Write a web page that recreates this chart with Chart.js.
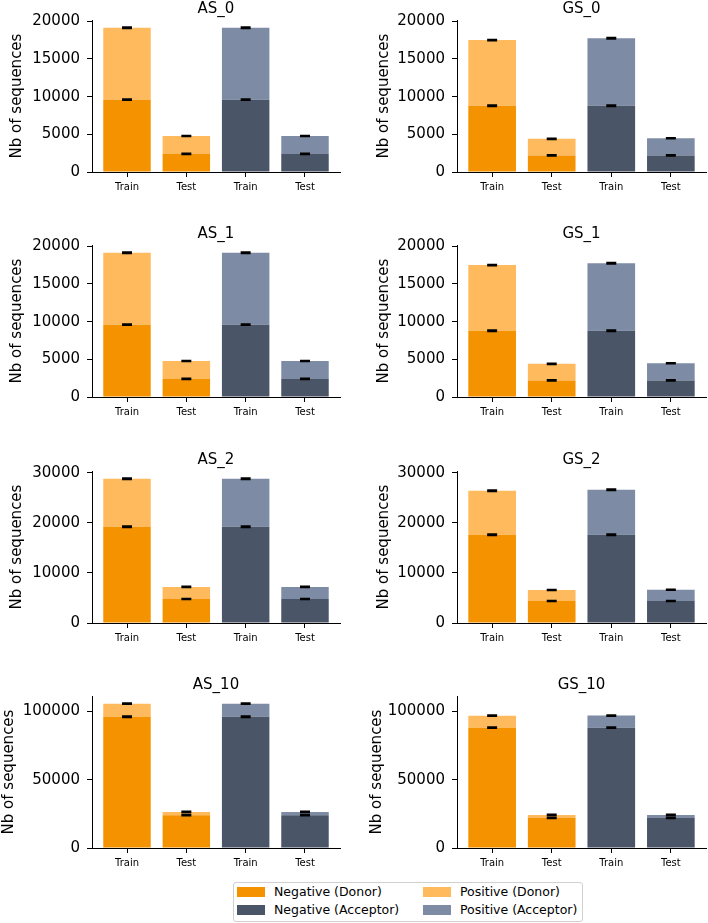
<!DOCTYPE html>
<html>
<head>
<meta charset="utf-8">
<title>Nb of sequences per split</title>
<script src="https://cdn.jsdelivr.net/npm/chart.js@4.4.1/dist/chart.umd.min.js"></script>
<style>
  html, body { margin: 0; padding: 0; background: #fff; }
  #page { position: relative; width: 708px; height: 923px; overflow: hidden; font-family: 'DejaVu Sans', sans-serif; }
  .cell { position: absolute; }
  #legend { position: absolute; left: 233px; top: 882px; width: 348px; height: 38px; border: 1px solid #d0d0d0; border-radius: 3px; }
  .item { position: absolute; font-size: 12.5px; line-height: 14px; color: #000; white-space: nowrap; }
  .item span { display: inline-block; width: 28px; height: 10px; margin-right: 9px; vertical-align: -1px; }
</style>
</head>
<body>
<div id="page"><div id="legend"></div></div>
<script>
// 4x2 grid of stacked bars: donor (orange) vs acceptor (slate), train/test splits

var TITLES = ['AS_0', 'GS_0', 'AS_1', 'GS_1', 'AS_2', 'GS_2', 'AS_10', 'GS_10'];
var CATEGORIES = ['Train', 'Test', 'Train', 'Test'];
var SERIES_LABELS = ['Negative (Donor)', 'Positive (Donor)', 'Negative (Acceptor)', 'Positive (Acceptor)'];

// [train, test] per subplot
var NEG_DONOR = [[9600, 2400], [8800, 2200], [9600, 2400], [8800, 2200], [19200, 4800], [17600, 4400], [96000, 24000], [88000, 22000]];
var POS_DONOR = [[9550, 2380], [8700, 2200], [9550, 2380], [8700, 2200], [9600, 2400], [8800, 2200], [9600, 2400], [8800, 2200]];
var NEG_ACC   = [[9600, 2400], [8800, 2200], [9600, 2400], [8800, 2200], [19200, 4800], [17600, 4400], [96000, 24000], [88000, 22000]];
var POS_ACC   = [[9550, 2380], [8950, 2280], [9550, 2380], [8950, 2280], [9600, 2400], [9000, 2250], [9600, 2400], [8900, 2200]];
var ERR       = [[60, 40], [60, 40], [60, 40], [60, 40], [90, 60], [90, 60], [300, 250], [300, 250]];
var Y_STEP    = [5000, 5000, 5000, 5000, 10000, 10000, 50000, 50000];

var COLORS = ['#F49200', '#FEBA5C', '#4A5568', '#7D8CA4'];

// layout per column / row (pixels on the page)
var COL_LEFT = [0, 354];
var COL_YW = [92, 103];
var COL_RPAD = [14, 2];
var PLOT_TOP = [20, 245, 471, 696];
var YLABEL_PAD = [[8, 21], [8, 21], [8, 21], [0, 14]];

var errorBars = {
  id: 'errorBars',
  afterDatasetsDraw: function(chart) {
    var ctx = chart.ctx;
    var y = chart.scales.y;
    ctx.save();
    ctx.strokeStyle = '#000';
    ctx.lineWidth = 2;
    chart.data.datasets.forEach(function(ds, i) {
      var meta = chart.getDatasetMeta(i);
      meta.data.forEach(function(bar, j) {
        var dy = y.getPixelForValue(0) - y.getPixelForValue(ds.errors[j]);
        ctx.beginPath();
        ctx.moveTo(bar.x, bar.y - dy); ctx.lineTo(bar.x, bar.y + dy);
        ctx.moveTo(bar.x - 5, bar.y - dy); ctx.lineTo(bar.x + 5, bar.y - dy);
        ctx.moveTo(bar.x - 5, bar.y + dy); ctx.lineTo(bar.x + 5, bar.y + dy);
        ctx.stroke();
      });
    });
    ctx.restore();
  }
};

function points(vals, offset) {
  return vals.map(function(v, i) { return { x: i + offset, y: v }; });
}

function rowMax(row) {
  var m = 0;
  [row * 2, row * 2 + 1].forEach(function(k) {
    for (var i = 0; i < 2; i++) {
      m = Math.max(m, NEG_DONOR[k][i] + POS_DONOR[k][i] + ERR[k][i], NEG_ACC[k][i] + POS_ACC[k][i] + ERR[k][i]);
    }
  });
  return m * 1.05;
}

function makeChart(k) {
  var row = Math.floor(k / 2), col = k % 2;
  var cell = document.createElement('div');
  cell.className = 'cell';
  cell.style.left = COL_LEFT[col] + 'px';
  cell.style.top = (PLOT_TOP[row] - 20) + 'px';
  var canvas = document.createElement('canvas');
  canvas.width = 354;
  canvas.height = 202;
  cell.appendChild(canvas);
  document.getElementById('page').appendChild(cell);

  var errs = ERR[k];
  var datasets = [
    { label: SERIES_LABELS[0], data: points(NEG_DONOR[k], 0), backgroundColor: COLORS[0], errors: errs },
    { label: SERIES_LABELS[1], data: points(POS_DONOR[k], 0), backgroundColor: COLORS[1], errors: errs },
    { label: SERIES_LABELS[2], data: points(NEG_ACC[k], 2), backgroundColor: COLORS[2], errors: errs },
    { label: SERIES_LABELS[3], data: points(POS_ACC[k], 2), backgroundColor: COLORS[3], errors: errs }
  ];
  datasets.forEach(function(ds) {
    ds.stack = 'all';
    ds.borderWidth = 0;
    ds.categoryPercentage = 0.8;
    ds.barPercentage = 1;
  });

  var yMax = rowMax(row);
  var step = Y_STEP[k];

  new Chart(canvas, {
    type: 'bar',
    data: { datasets: datasets },
    options: {
      responsive: false,
      animation: false,
      events: [],
      layout: { padding: { left: 0, right: COL_RPAD[col], top: 0, bottom: 0 } },
      plugins: {
        legend: { display: false },
        tooltip: { enabled: false },
        title: {
          display: true,
          fullSize: false,
          text: TITLES[k],
          color: '#000',
          font: { family: 'DejaVu Sans', size: 15, weight: 'normal' },
          padding: { top: 0, bottom: 2 }
        }
      },
      scales: {
        x: {
          type: 'linear',
          offset: false,
          min: -0.59,
          max: 3.59,
          afterBuildTicks: function(scale) {
            scale.ticks = CATEGORIES.map(function(_, i) { return { value: i }; });
          },
          afterFit: function(scale) { scale.height = 30; },
          ticks: {
            callback: function(v) { return CATEGORIES[v]; },
            color: '#000',
            font: { family: 'DejaVu Sans', size: 10 },
            padding: 4,
            autoSkip: false,
            maxRotation: 0
          },
          grid: { offset: false, drawOnChartArea: false, color: '#000', tickLength: 5 },
          border: { color: '#000', width: 1 }
        },
        y: {
          stacked: true,
          min: 0,
          max: yMax,
          afterBuildTicks: function(scale) {
            var ticks = [];
            for (var v = 0; v <= yMax; v += step) ticks.push({ value: v });
            scale.ticks = ticks;
          },
          afterFit: function(scale) { scale.width = COL_YW[col]; },
          ticks: {
            callback: function(v) { return String(v); },
            color: '#000',
            font: { family: 'DejaVu Sans', size: 15 },
            padding: 7
          },
          grid: { drawOnChartArea: false, color: '#000', tickLength: 5 },
          border: { color: '#000', width: 1 },
          title: {
            display: true,
            text: 'Nb of sequences',
            color: '#000',
            font: { family: 'DejaVu Sans', size: 15 },
            padding: { top: YLABEL_PAD[row][col], bottom: 0 }
          }
        }
      }
    },
    plugins: [errorBars]
  });
}

function buildLegend() {
  var legend = document.getElementById('legend');
  // column-major order like matplotlib ncol=2
  var order = [0, 2, 1, 3];
  var lefts = [3, 189];
  var tops = [2, 20];
  order.forEach(function(s, n) {
    var item = document.createElement('div');
    item.className = 'item';
    item.style.left = lefts[Math.floor(n / 2)] + 'px';
    item.style.top = tops[n % 2] + 'px';
    item.innerHTML = '<span style="background:' + COLORS[s] + '"></span>' + SERIES_LABELS[s];
    legend.appendChild(item);
  });
}

for (var k = 0; k < TITLES.length; k++) makeChart(k);
buildLegend();
</script>
</body>
</html>
